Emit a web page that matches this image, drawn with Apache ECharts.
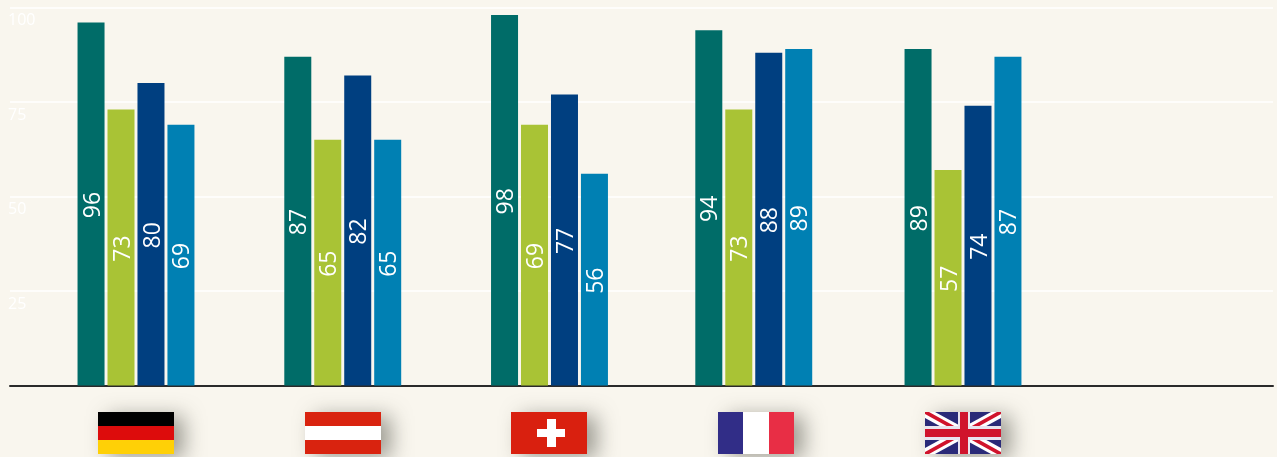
<!DOCTYPE html>
<html><head><meta charset="utf-8">
<style>html,body{margin:0;padding:0;background:#f9f6ee}#c{width:1277px;height:457px}</style>
<script src="https://cdn.jsdelivr.net/npm/echarts@6/dist/echarts.min.js"></script>
</head><body><div id="c"></div>
<script>
const countries = ['Germany', 'Austria', 'Switzerland', 'France', 'United Kingdom'];
const groupSlots = [0, 1, 2, 2.988, 4];
const seriesA = [96, 87, 98, 94, 89];
const seriesB = [73, 65, 69, 73, 57];
const seriesC = [80, 82, 77, 88, 74];
const seriesD = [69, 65, 56, 89, 87];
const colors = ['#006c68', '#a9c335', '#003f80', '#0080b3'];
const yTicks = [25, 50, 75, 100];

const chart = echarts.init(document.getElementById('c'), null, {renderer: 'canvas'});
const mkSeries = (vals, color) => ({
  type: 'bar', data: vals.map((v, i) => [groupSlots[i], v]),
  barWidth: 27, barGap: '11%', itemStyle: {color},
  label: {show: true, position: 'inside', rotate: 90, color: '#fff', offset: [-1, 2],
    fontFamily: 'Open Sans', fontSize: 23, formatter: p => p.value[1]}
});
chart.setOption({
  animation: false,
  backgroundColor: '#f9f6ee',
  grid: {left: 10, right: 4, top: 7.5, height: 378},
  xAxis: {type: 'value', min: -0.6094, max: 5.4994, interval: 100, splitLine: {show: false},
    axisLine: {show: true, onZero: true, lineStyle: {color: '#2a2a2a', width: 2}},
    axisTick: {show: false}, axisLabel: {show: false}},
  yAxis: {type: 'value', min: 0, max: 100, interval: 25,
    axisLine: {show: false}, axisTick: {show: false},
    splitLine: {lineStyle: {color: '#ffffff', width: 1.5}},
    axisLabel: {inside: true, margin: -2, color: '#ffffff', fontFamily: 'Open Sans', fontSize: 16,
      verticalAlign: 'top', padding: [5, 0, 0, 0],
      formatter: v => yTicks.includes(v) ? String(v) : ''}},
  series: [mkSeries(seriesA, colors[0]), mkSeries(seriesB, colors[1]), mkSeries(seriesC, colors[2]), mkSeries(seriesD, colors[3])]
});

const W = 76, H = 42, TOP = 412;
const rect = (x, y, w, h, fill) => ({type: 'rect', shape: {x, y, width: w, height: h}, style: {fill}});
const poly = (points, fill) => ({type: 'polygon', shape: {points}, style: {fill}});
const diag = (a, b, fill) => [
  poly([[0, 0], [a, 0], [W, H - b], [W, H], [W - a, H], [0, b]], fill),
  poly([[W, 0], [W - a, 0], [0, H - b], [0, H], [a, H], [W, b]], fill)
];
const flagParts = [
  [rect(0, 0, W, 14, '#000000'), rect(0, 14, W, 14, '#dd0c0c'), rect(0, 28, W, 14, '#ffd006')],
  [rect(0, 0, W, 42, '#d9230f'), rect(0, 14, W, 14, '#ffffff')],
  [rect(0, 0, W, 42, '#d9200f'), rect(26, 17, 28, 8, '#ffffff'), rect(36, 7, 9, 28, '#ffffff')],
  [rect(0, 0, 25, 42, '#312d87'), rect(25, 0, 26, 42, '#ffffff'), rect(51, 0, 25, 42, '#e82e45')],
  [rect(0, 0, W, 42, '#2a2a78'), ...diag(10, 6, '#ffffff'), ...diag(4, 2, '#d0142c'),
   rect(0, 14, W, 14, '#e8e4ee'), rect(33, 0, 12, 42, '#e8e4ee'),
   rect(0, 17, W, 8, '#d0142c'), rect(35, 0, 8, 42, '#d0142c')]
];
chart.setOption({graphic: flagParts.map((parts, i) => {
  const cx = chart.convertToPixel({xAxisIndex: 0}, i);
  return {type: 'group', x: Math.round(cx - W / 2), y: TOP, children: [
    {type: 'rect', shape: {x: 0, y: 0, width: W, height: H},
     style: {fill: '#fff', shadowBlur: 20, shadowOffsetX: 10, shadowOffsetY: 4, shadowColor: 'rgba(70,70,60,0.5)'}},
    ...parts]};
})});
</script></body></html>
